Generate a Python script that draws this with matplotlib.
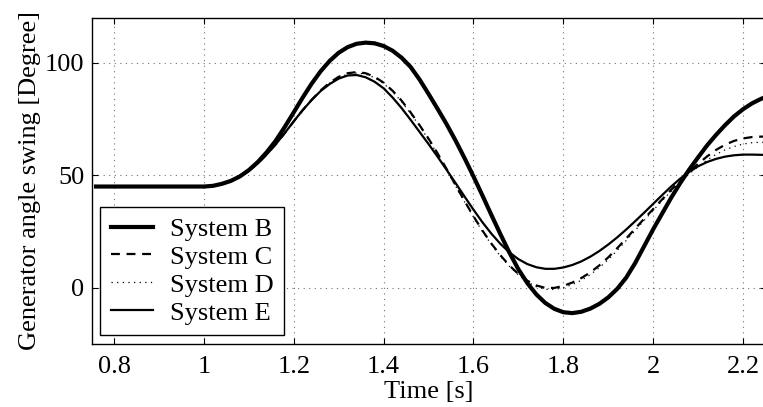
import numpy as np
import matplotlib.pyplot as plt

plt.rcParams['font.family'] = ['Liberation Serif', 'DejaVu Serif']

FONT = 19

# sample times [s]
t = np.round(np.arange(0.76, 2.261, 0.02), 2)

flat = [45.0] * 12  # 0.76 .. 0.98

sys_b = flat + [45.0, 45.3, 46.2, 47.5, 49.5, 52.3, 55.9, 60.3, 65.4, 71.5,
                78.0, 84.6, 90.8, 96.3, 100.9, 104.5, 107.0, 108.5, 109.0, 108.7,
                107.5, 105.4, 102.3, 98.2, 92.6, 86.2, 79.6, 72.8, 65.5, 57.7,
                49.5, 41.0, 32.3, 23.8, 15.6, 8.2, 2.0, -3.0, -6.8, -9.4,
                -10.9, -11.3, -10.7, -9.3, -7.2, -4.3, -0.5, 4.5, 11.0, 18.5,
                26.0, 33.0, 40.0, 46.5, 52.5, 58.0, 63.3, 68.0, 72.3, 76.2,
                79.4, 82.0, 84.0, 85.5]

sys_c = flat + [45.0, 45.3, 46.1, 47.4, 49.3, 52.0, 55.3, 59.3, 63.8, 68.8,
                74.0, 79.0, 83.6, 87.8, 91.2, 93.8, 95.4, 95.9, 95.4, 93.8,
                91.2, 87.6, 83.2, 78.0, 72.3, 66.3, 59.8, 52.9, 45.7, 38.6,
                31.8, 25.4, 19.6, 14.4, 9.9, 6.1, 3.1, 1.0, -0.1, -0.1,
                0.8, 2.3, 4.3, 6.8, 9.9, 13.5, 17.6, 21.9, 26.3, 30.7,
                35.0, 39.3, 43.5, 47.6, 51.5, 55.1, 58.4, 61.3, 63.6, 65.3,
                66.4, 67.0, 67.2, 67.2]

sys_d = flat + [45.0, 45.3, 46.1, 47.4, 49.3, 52.0, 55.3, 59.3, 63.8, 68.8,
                74.0, 79.0, 83.5, 87.7, 91.0, 93.5, 95.0, 95.5, 95.0, 93.4,
                90.8, 87.2, 82.8, 77.6, 71.9, 65.9, 59.4, 52.5, 45.3, 38.2,
                31.4, 25.0, 19.2, 14.0, 9.5, 5.7, 2.6, 0.4, -0.7, -0.8,
                0.0, 1.4, 3.3, 5.8, 8.9, 12.5, 16.6, 21.0, 25.5, 30.0,
                34.4, 38.7, 42.9, 46.9, 50.6, 53.9, 56.8, 59.3, 61.3, 62.8,
                63.9, 64.5, 64.7, 64.7]

sys_e = flat + [45.0, 45.3, 46.1, 47.4, 49.3, 52.0, 55.3, 59.3, 63.8, 68.8,
                74.0, 79.0, 83.5, 87.5, 90.6, 93.0, 94.4, 94.6, 93.6, 91.6,
                88.7, 84.6, 79.9, 74.7, 69.3, 63.9, 58.3, 52.5, 46.6, 40.6,
                34.7, 29.1, 24.0, 19.5, 15.7, 12.7, 10.5, 9.1, 8.4, 8.4,
                9.0, 10.1, 11.7, 13.8, 16.3, 19.2, 22.4, 25.9, 29.6, 33.4,
                37.3, 41.2, 45.0, 48.5, 51.5, 54.0, 55.9, 57.3, 58.3, 58.9,
                59.2, 59.2, 59.1, 59.0]

labels = ['System B', 'System C', 'System D', 'System E']
x_ticks = [0.8, 1, 1.2, 1.4, 1.6, 1.8, 2, 2.2]
x_tick_labels = ['0.8', '1', '1.2', '1.4', '1.6', '1.8', '2', '2.2']
y_ticks = [0, 50, 100]

fig = plt.figure(figsize=(7.63, 4.07), dpi=100)
ax = fig.add_axes([0.12, 0.155, 0.8833, 0.801])

ax.plot(t, sys_b, color='black', lw=3.0, label=labels[0])
ax.plot(t, sys_c, color='black', lw=1.6, dashes=(4, 3), label=labels[1])
ax.plot(t, sys_d, color='black', lw=0.9, dashes=(1, 3.5), label=labels[2])
ax.plot(t, sys_e, color='black', lw=1.6, label=labels[3])

ax.set_xlim(0.75, 2.25)
ax.set_ylim(-25, 120)
ax.set_xticks(x_ticks)
ax.set_xticklabels(x_tick_labels)
ax.set_yticks(y_ticks)
ax.grid(True, color='0.45', linestyle=(0, (1, 4)), lw=0.8)
ax.tick_params(direction='in', length=4, width=0.8, top=True, right=True,
               labelsize=FONT)
ax.tick_params(axis='x', pad=9)
ax.tick_params(axis='y', pad=5)
for s in ax.spines.values():
    s.set_linewidth(1.0)

ax.set_xlabel('Time [s]', fontsize=FONT, labelpad=2)
ax.set_ylabel('Generator angle swing [Degree]', fontsize=FONT, labelpad=3)

leg = ax.legend(loc='lower left', fontsize=FONT, frameon=True, fancybox=False,
                edgecolor='black', framealpha=1, handlelength=1.6,
                handletextpad=0.65, labelspacing=0.17, borderpad=0.4,
                borderaxespad=0.33)
leg.get_frame().set_linewidth(1.0)

fig.savefig('out.png', dpi=100)
